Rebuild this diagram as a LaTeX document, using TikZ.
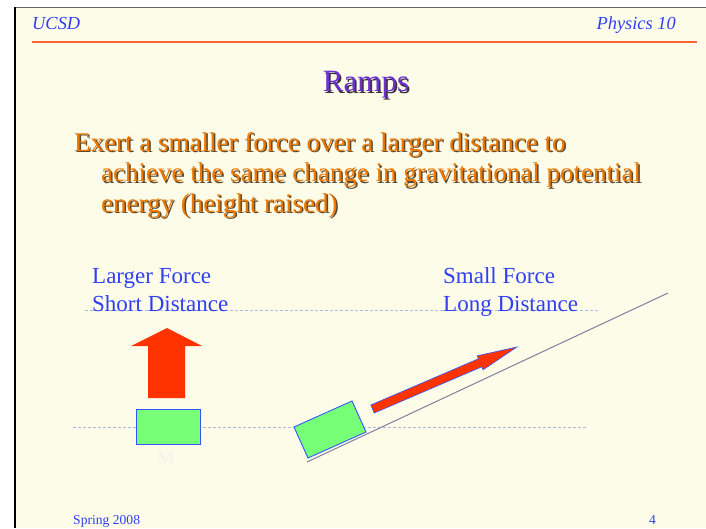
\documentclass[tikz,border=0pt]{standalone}
\usepackage{fontspec}
\setmainfont{Liberation Serif}
\definecolor{slidebg}{HTML}{FCFCE8}
\definecolor{labelblue}{HTML}{3040F0}
\definecolor{bodyorange}{HTML}{EE7800}
\definecolor{bodyshadow}{HTML}{5A4A30}
\definecolor{titlepurple}{HTML}{6E30D0}
\definecolor{headline}{HTML}{FF6633}
\definecolor{boxgreen}{HTML}{77FF77}
\definecolor{boxblue}{HTML}{3355FF}
\definecolor{forcered}{HTML}{FF3300}
\definecolor{rampgray}{HTML}{8080A0}
\definecolor{guideblue}{HTML}{AABBDD}
\definecolor{faintm}{HTML}{F3F3EE}
\tikzset{
  txt/.style={inner sep=0pt, anchor=base west},
  guide/.style={draw=guideblue, line width=0.8pt, dash pattern=on 3pt off 2pt},
  block/.style={fill=boxgreen, draw=boxblue, line width=1pt},
}
\begin{document}
\begin{tikzpicture}[x=1pt,y=-1pt]
\useasboundingbox (0,0) rectangle (706,528);
\fill[white] (0,0) rectangle (706,528);
\fill[slidebg] (15,7.5) rectangle (706,528);
\draw[gray!80!black, line width=1.5pt] (14,7.5) -- (706,7.5);
\draw[black, line width=1.2pt] (15,7) -- (15,528);

% header
\node[txt, text=labelblue, font=\fontsize{18.4}{20}\selectfont\itshape] (ucsd) at (32,29) {UCSD};
\node[txt, anchor=base east, text=labelblue, font=\fontsize{18.4}{20}\selectfont\itshape] (phys) at (676,29) {Physics 10};
\draw[headline, line width=1.5pt] (32,42) -- (697,42);

% title
\node[txt, anchor=base, text=black!80, font=\fontsize{31}{34}\selectfont] (titleshadow) at (367.5,93) {Ramps};
\node[txt, anchor=base, text=titlepurple, font=\fontsize{31}{34}\selectfont] (title) at (366,91.5) {Ramps};

% body text
\foreach \n/\xx/\yy/\t in {a/74/151/{Exert a smaller force over a larger distance to},
                           b/101/181.5/{achieve the same change in gravitational potential},
                           c/101/212/{energy (height raised)}}{
  \node[txt, text=bodyshadow, font=\fontsize{27}{30}\selectfont] (sh\n) at (\xx+1.5,\yy+1.5) {\t};
  \node[txt, text=bodyorange, font=\fontsize{27}{30}\selectfont] (body\n) at (\xx,\yy) {\t};
}

% guide lines
\coordinate (g1a) at (85,310.5);
\coordinate (g1b) at (598,310.5);
\coordinate (g2a) at (73,427);
\coordinate (g2b) at (587,427);
\draw[guide] (g1a) -- (g1b);
\draw[guide] (g2a) -- (g2b);

% labels
\node[txt, text=labelblue, font=\fontsize{23}{26}\selectfont] (lf) at (92,283) {Larger Force};
\node[txt, text=labelblue, font=\fontsize{23}{26}\selectfont] (sd) at (92,311) {Short Distance};
\node[txt, text=labelblue, font=\fontsize{23}{26}\selectfont] (sf) at (443,283) {Small Force};
\node[txt, text=labelblue, font=\fontsize{23}{26}\selectfont] (ld) at (443,311) {Long Distance};

% left: mass and upward force
\fill[forcered] (167,328) -- (202,346) -- (185,346) -- (185,398) -- (148,398) -- (148,346) -- (131,346) -- cycle;
\draw[block] (136,409) rectangle (200,444);
\node[inner sep=0pt, text=faintm, font=\fontsize{20}{22}\selectfont] (mlabel) at (166,458) {M};

% right: ramp, block and force
\coordinate (rampa) at (307,462);
\coordinate (rampb) at (668,293);
\draw[rampgray, line width=1pt] (rampa) -- (rampb);
\draw[block, line width=0.9pt] (294,427) -- (352,401) -- (366,432) -- (308,458) -- cycle;
\fill[forcered, draw=boxblue, line width=0.6pt]
  (370.8,405.0) -- (478.4,358.8) -- (477.1,355.8) -- (516.9,347.0)
  -- (483.1,369.8) -- (481.8,366.8) -- (374.2,413.0) -- cycle;

% footer
\node[txt, text=labelblue, font=\fontsize{13.6}{15}\selectfont] (spring) at (73,524) {Spring 2008};
\node[txt, anchor=base east, text=labelblue, font=\fontsize{13.6}{15}\selectfont] (pg) at (656,524) {4};
\end{tikzpicture}
\end{document}
